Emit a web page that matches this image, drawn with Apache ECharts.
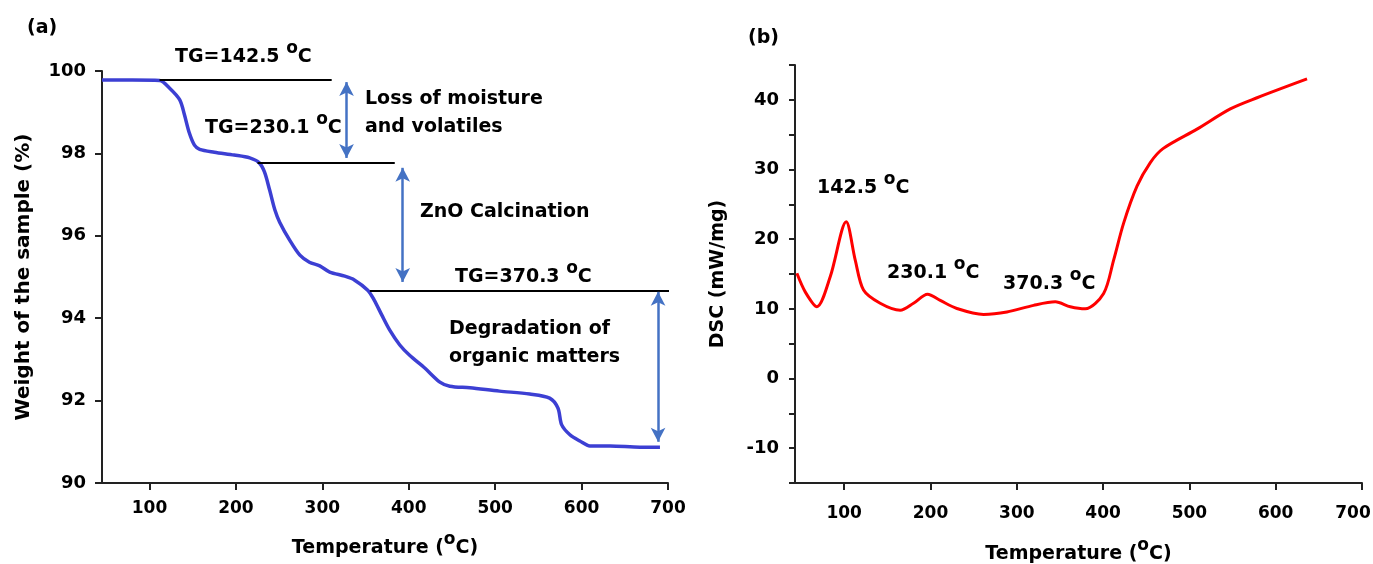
<!DOCTYPE html>
<html style="height: 100%">
<head>
    <meta charset="utf-8">
    <script src="https://cdn.jsdelivr.net/npm/echarts@6/dist/echarts.min.js"></script>
</head>
<body style="height: 100%; margin: 0; background: #fff">
<div id="container" style="width: 1373px; height: 564px"></div>

<script type="text/javascript">
    // (a) TG curve
    var tgTemp = [45, 80, 111.6, 123, 135, 140.5, 146, 152, 158, 175, 198, 216, 227, 233, 239, 245, 250.6, 262, 274, 285, 297,
        308.5, 326, 337, 352.5, 360, 368.7, 378, 389.6, 401, 418.5, 436, 447.5, 470.7, 505, 540, 563, 572.6, 577, 586.5,
        598, 609.7, 633, 667.6, 690.7];
    var tgWeight = [99.78, 99.78, 99.77, 99.59, 99.30, 98.93, 98.5, 98.2, 98.1, 98.03, 97.96, 97.89, 97.77, 97.55, 97.11,
        96.63, 96.33, 95.90, 95.53, 95.36, 95.27, 95.12, 95.02, 94.93, 94.68, 94.44, 94.08, 93.71, 93.35, 93.1, 92.79,
        92.45, 92.35, 92.31, 92.23, 92.16, 92.06, 91.82, 91.41, 91.17, 91.02, 90.9, 90.9, 90.87, 90.87];

    // (b) DSC curve
    var dscTemp = [45.2, 55, 68.4, 83.8, 102.3, 112.8, 122.4, 141.7, 164.9, 180.3, 196.6, 211.3, 230.6, 261.5, 288.6, 319.4,
        344.6, 362, 379.3, 400.6, 412.2, 423.8, 439.3, 454.7, 469.4, 508.8, 547.4, 578.4, 636.3];
    var dscValue = [15.1, 12.4, 10.3, 14.6, 22.5, 17.0, 12.7, 10.8, 9.8, 10.8, 12.1, 11.2, 10.05, 9.2, 9.55, 10.5,
        11.0, 10.3, 10.0, 12.2, 17.0, 22.3, 27.6, 31.0, 33.0, 35.8, 38.7, 40.3, 43.0];

    var xTicks = [100, 200, 300, 400, 500, 600, 700];

    // annotation levels in (a): [from T, to T, weight]
    var tgLevels = [[111.6, 310.8, 99.78], [225, 383.8, 97.77], [355, 709, 94.66]];
    // arrows in (a): [T, top weight, bottom weight]
    var tgArrows = [[328, 99.73, 97.89], [393, 97.65, 94.88], [688.5, 94.64, 91.0]];

    var dom = document.getElementById("container");
    var myChart = echarts.init(dom);

    var font = 'DejaVu Sans';
    var sup = {fontSize: 17, fontWeight: 'bold', fontFamily: font, color: '#000', verticalAlign: 'top', lineHeight: 16};

    function zip(a, b) {
        return a.map(function (v, i) { return [v, b[i]]; });
    }

    function axisX(idx, min, gap, margin, lastPad) {
        return {
            type: 'value', gridIndex: idx, min: min, max: 700,
            name: 'Temperature ({s|o}C)', nameLocation: 'middle', nameGap: gap, nameMoveOverlap: false,
            nameTextStyle: {fontSize: 19, fontWeight: 'bold', fontFamily: font, color: '#000', lineHeight: 34, rich: {s: sup}},
            splitLine: {show: false},
            axisLine: {onZero: false, lineStyle: {color: '#222', width: 2}},
            axisTick: {customValues: xTicks, length: 7, lineStyle: {color: '#222', width: 2}},
            axisLabel: {
                customValues: xTicks, fontSize: 17, fontWeight: 'bold', fontFamily: font, color: '#000', margin: margin,
                rich: {r: {fontSize: 17, fontWeight: 'bold', fontFamily: font, color: '#000', padding: [0, lastPad, 0, 0]}},
                formatter: function (v) { return v === 700 ? '{r|700}' : String(v); }
            }
        };
    }

    function label(txt, x, y, size) {
        return {
            type: 'text', x: x, y: y,
            style: {
                text: txt, fontSize: size || 19, fontWeight: 'bold', fontFamily: font, fill: '#000',
                align: 'left', verticalAlign: 'middle', lineHeight: 34, rich: {s: sup}
            }
        };
    }

    var levelSeries = tgLevels.map(function (l) {
        return {
            type: 'line', xAxisIndex: 0, yAxisIndex: 0, clip: false, silent: true,
            data: [[l[0], l[2]], [l[1], l[2]]], showSymbol: false,
            lineStyle: {color: '#000', width: 2}
        };
    });

    var option = {
        animation: false,
        backgroundColor: '#fff',
        grid: [
            {left: 102, right: 705, top: 71, bottom: 81, outerBoundsMode: 'none'},
            {left: 795, right: 11, top: 65, bottom: 81, outerBoundsMode: 'none'}
        ],
        xAxis: [axisX(0, 45, 48, 17, 0), axisX(1, 43, 54, 22, 18)],
        yAxis: [
            {
                type: 'value', gridIndex: 0, min: 90, max: 100, interval: 2,
                name: 'Weight of the sample (%)', nameLocation: 'middle', nameGap: 68, nameMoveOverlap: false,
                nameTextStyle: {fontSize: 20, fontWeight: 'bold', fontFamily: font, color: '#000'},
                splitLine: {show: false},
                axisLine: {show: true, lineStyle: {color: '#222', width: 2}},
                axisTick: {show: true, length: 7, lineStyle: {color: '#222', width: 2}},
                axisLabel: {fontSize: 18, fontWeight: 'bold', fontFamily: font, color: '#000', margin: 16}
            },
            {
                type: 'value', gridIndex: 1, min: -15, max: 45, interval: 5,
                name: 'DSC (mW/mg)', nameLocation: 'middle', nameGap: 67, nameMoveOverlap: false,
                nameTextStyle: {fontSize: 19, fontWeight: 'bold', fontFamily: font, color: '#000'},
                splitLine: {show: false},
                axisLine: {show: true, lineStyle: {color: '#222', width: 2}},
                axisTick: {show: true, length: 6, lineStyle: {color: '#222', width: 2}},
                axisLabel: {
                    fontSize: 18, fontWeight: 'bold', fontFamily: font, color: '#000', margin: 16,
                    formatter: function (v) { return (v % 10 === 0 && v > -15 && v < 45) ? v : ''; }
                }
            }
        ],
        series: [
            {
                type: 'line', xAxisIndex: 0, yAxisIndex: 0, data: zip(tgTemp, tgWeight),
                smooth: 0.3, showSymbol: false, clip: false,
                lineStyle: {color: '#3c3fd3', width: 3.5}
            },
            {
                type: 'line', xAxisIndex: 0, yAxisIndex: 0, data: [], clip: false,
                markLine: {
                    silent: true, symbol: ['arrow', 'arrow'], symbolSize: [11, 14], label: {show: false},
                    lineStyle: {color: '#4472c4', width: 2.5, type: 'solid'},
                    data: tgArrows.map(function (a) {
                        return [{coord: [a[0], a[1]]}, {coord: [a[0], a[2]]}];
                    })
                }
            },
            {
                type: 'line', xAxisIndex: 1, yAxisIndex: 1, data: zip(dscTemp, dscValue),
                smooth: 0.3, showSymbol: false,
                lineStyle: {color: '#ff0000', width: 3}
            }
        ].concat(levelSeries),
        graphic: [
            label('(a)', 27, 28),
            label('(b)', 748, 38),
            label('TG=142.5 {s|o}C', 175, 57),
            label('Loss of moisture', 365, 99),
            label('and volatiles', 365, 127),
            label('TG=230.1 {s|o}C', 205, 128),
            label('ZnO Calcination', 420, 212),
            label('TG=370.3 {s|o}C', 455, 277),
            label('Degradation of', 449, 329),
            label('organic matters', 449, 357),
            label('142.5 {s|o}C', 817, 188),
            label('230.1 {s|o}C', 887, 273),
            label('370.3 {s|o}C', 1003, 284)
        ]
    };
    myChart.setOption(option);
</script>
</body>
</html>
